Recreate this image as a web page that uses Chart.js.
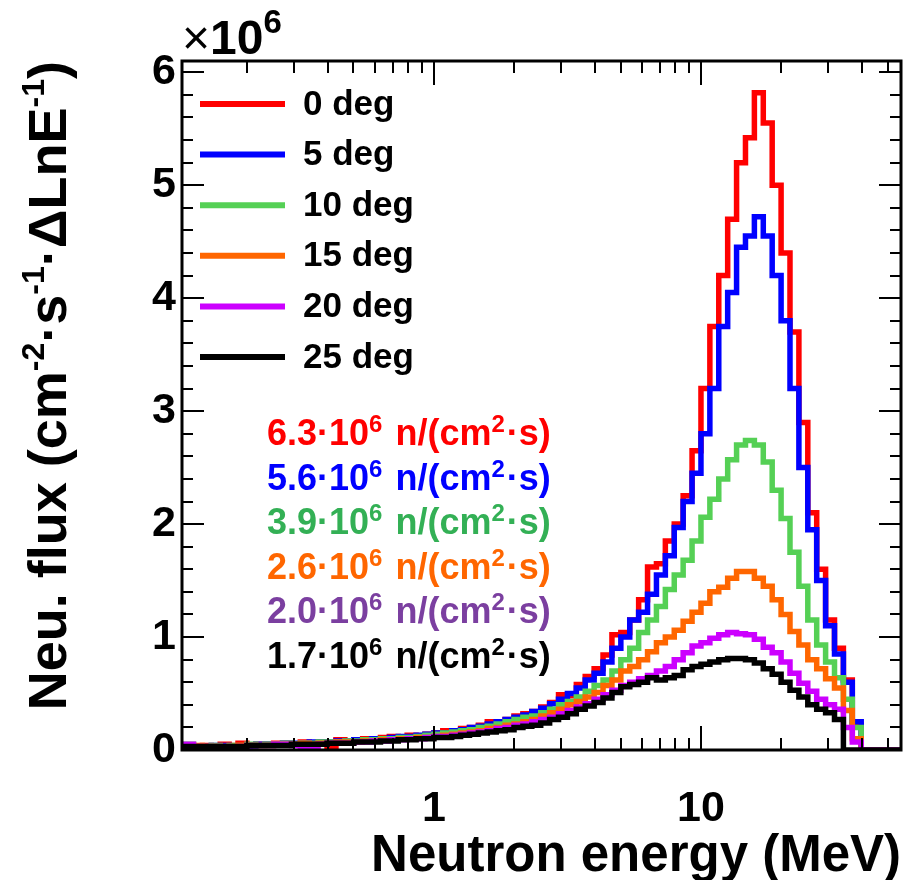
<!DOCTYPE html>
<html>
<head>
<meta charset="utf-8">
<script src="https://cdn.jsdelivr.net/npm/chart.js@4.4.0/dist/chart.umd.min.js"></script>
<style>
  html, body { margin: 0; padding: 0; background: #fff; }
</style>
</head>
<body>
<canvas id="myChart" width="914" height="880"></canvas>
<script>
const FONT = "'Liberation Sans', Arial, Helvetica, sans-serif";

// log bins, 30 per decade, first low edge just below 0.11 MeV
const binsPerDecade = 30;
const nBins = 82;
const binEdges = [];
for (let k = 0; k <= nBins; k++) binEdges.push(Math.pow(10, -1 + (k + 1) / binsPerDecade));

const labels = ['0 deg', '5 deg', '10 deg', '15 deg', '20 deg', '25 deg'];
const fluxText = ['6.3', '5.6', '3.9', '2.6', '2.0', '1.7'];

// flux per bin, in units of 10^6 (cm-2 s-1 per ΔLnE)
const deg0 = [
  0.03,0.04,0.02,0.04,0.03,0.05,0.04,0.06,0.04,0.05,
  0.05,0.06,0.06,0.05,0.07,0.06,0.07,0.01,0.09,0.07,
  0.08,0.10,0.09,0.11,0.12,0.11,0.13,0.12,0.14,0.15,
  0.17,0.16,0.19,0.20,0.22,0.25,0.24,0.27,0.30,0.32,
  0.34,0.38,0.42,0.49,0.48,0.58,0.65,0.72,0.84,1.02,
  1.04,1.15,1.33,1.62,1.65,1.85,2.00,2.25,2.65,3.20,
  3.75,4.20,4.70,5.20,5.42,5.82,5.55,5.00,4.40,3.70,
  2.90,2.10,1.60,1.15,0.90,0.62,0.22,0,0,0,
  0,0
];
const deg5 = [
  0.02,0.03,0.03,0.02,0.04,0.04,0.03,0.005,0.01,0.05,
  0.05,0.05,0.06,0.06,0.06,0.07,0.07,0.07,0.08,0.08,
  0.09,0.09,0.10,0.10,0.11,0.12,0.12,0.13,0.14,0.15,
  0.15,0.17,0.18,0.20,0.21,0.23,0.25,0.27,0.29,0.31,
  0.34,0.37,0.41,0.45,0.50,0.55,0.62,0.68,0.78,0.90,
  1.00,1.15,1.22,1.38,1.55,1.72,1.97,2.20,2.45,2.80,
  3.20,3.75,4.05,4.45,4.55,4.72,4.55,4.20,3.80,3.20,
  2.50,1.95,1.50,1.10,0.85,0.60,0.25,0,0,0,
  0,0
];
const deg10 = [
  0.03,0.05,0.03,0.03,0.04,0.03,0.04,0.04,0.05,0.04,
  0.05,0.05,0.06,0.05,0.06,0.06,0.07,0.07,0.07,0.08,
  0.08,0.09,0.09,0.10,0.10,0.11,0.11,0.12,0.13,0.14,
  0.15,0.16,0.17,0.18,0.20,0.21,0.23,0.25,0.27,0.29,
  0.30,0.33,0.36,0.40,0.43,0.47,0.52,0.57,0.62,0.70,
  0.80,0.90,1.04,1.15,1.27,1.42,1.55,1.68,1.85,2.06,
  2.22,2.40,2.57,2.70,2.74,2.70,2.55,2.30,2.05,1.75,
  1.45,1.15,0.93,0.78,0.64,0.45,0.20,0,0,0,
  0,0
];
const deg15 = [
  0.03,0.03,0.04,0.03,0.03,0.00,0.03,0.04,0.04,0.04,
  0.04,0.05,0.05,0.05,0.06,0.05,0.06,0.06,0.07,0.07,
  0.07,0.08,0.08,0.09,0.09,0.10,0.10,0.11,0.11,0.12,
  0.13,0.14,0.15,0.16,0.17,0.19,0.20,0.22,0.23,0.25,
  0.27,0.30,0.33,0.36,0.40,0.43,0.47,0.51,0.57,0.62,
  0.70,0.74,0.80,0.87,0.95,1.00,1.06,1.14,1.22,1.30,
  1.40,1.44,1.52,1.58,1.58,1.52,1.45,1.33,1.20,1.05,
  0.93,0.80,0.72,0.63,0.55,0.35,0.10,0,0,0,
  0,0
];
const deg20 = [
  0.03,0.05,0.03,0.03,0.03,0.03,0.00,0.03,0.04,0.04,
  0.04,0.05,0.05,0.04,0.01,0.01,0.05,0.06,0.06,0.06,
  0.07,0.07,0.08,0.08,0.09,0.09,0.10,0.10,0.11,0.12,
  0.12,0.13,0.14,0.15,0.16,0.17,0.19,0.20,0.22,0.23,
  0.25,0.27,0.29,0.32,0.35,0.38,0.41,0.45,0.49,0.53,
  0.57,0.60,0.63,0.66,0.70,0.74,0.80,0.86,0.92,0.95,
  0.99,1.02,1.04,1.03,1.02,0.98,0.91,0.86,0.78,0.68,
  0.59,0.52,0.45,0.40,0.36,0.20,0.07,0,0,0,
  0,0
];
const deg25 = [
  0.03,0.03,0.03,0.03,0.03,0.03,0.03,0.03,0.04,0.04,
  0.04,0.04,0.04,0.05,0.05,0.05,0.05,0.06,0.06,0.06,
  0.07,0.07,0.07,0.08,0.08,0.09,0.09,0.10,0.10,0.11,
  0.11,0.12,0.13,0.14,0.15,0.16,0.17,0.18,0.20,0.21,
  0.22,0.24,0.27,0.29,0.32,0.36,0.39,0.42,0.46,0.51,
  0.56,0.58,0.60,0.64,0.62,0.64,0.66,0.71,0.74,0.76,
  0.78,0.80,0.81,0.81,0.80,0.77,0.72,0.67,0.60,0.53,
  0.47,0.40,0.36,0.33,0.27,0,0,0,0,0,
  0,0
];
const series = [deg0, deg5, deg10, deg15, deg20, deg25];

const lineColors = ['#ff0000', '#0000ff', '#55d055', '#ff6600', '#cc00ff', '#000000'];
const textColors = ['#ff0000', '#0000ff', '#33b055', '#ff6600', '#7b3fa0', '#000000'];

const xMin = 0.114, xMax = 56.1;
const yMin = 0, yMax = 6.1;
const xMajorTicks = [1, 10];
const xMinorTicks = [0.2,0.3,0.4,0.5,0.6,0.7,0.8,0.9,2,3,4,5,6,7,8,9,20,30,40,50];
const yMajorTicks = [0, 1, 2, 3, 4, 5, 6];

function toSteps(vals) {
  const pts = vals.map((v, k) => ({ x: binEdges[k], y: v }));
  pts.push({ x: binEdges[vals.length], y: vals[vals.length - 1] });
  return pts;
}

function drawRich(ctx, parts, x, y, align) {
  let total = 0;
  parts.forEach(p => {
    ctx.font = (p.w || 'bold') + ' ' + p.size + 'px ' + FONT;
    p.width = ctx.measureText(p.t).width + (p.gap || 0);
    total += p.width;
  });
  let cx = align === 'right' ? x - total : x;
  parts.forEach(p => {
    ctx.font = (p.w || 'bold') + ' ' + p.size + 'px ' + FONT;
    ctx.fillText(p.t, cx, y - (p.rise || 0));
    cx += p.width;
  });
}

const frameTicks = {
  id: 'frameTicks',
  afterDatasetsDraw(chart) {
    const { ctx, chartArea: a, scales: { x, y } } = chart;
    ctx.save();
    ctx.strokeStyle = '#000';
    ctx.lineWidth = 2;
    ctx.beginPath();
    for (let k = 0; k <= 30; k++) {
      const v = k / 5;
      const py = Math.round(y.getPixelForValue(v));
      const len = k % 5 === 0 ? 22 : 11;
      ctx.moveTo(a.left, py); ctx.lineTo(a.left + len, py);
      ctx.moveTo(a.right, py); ctx.lineTo(a.right - len, py);
    }
    xMajorTicks.concat(xMinorTicks).forEach(v => {
      const px = Math.round(x.getPixelForValue(v));
      const len = xMajorTicks.includes(v) ? 24 : 12;
      ctx.moveTo(px, a.bottom); ctx.lineTo(px, a.bottom - len);
      ctx.moveTo(px, a.top); ctx.lineTo(px, a.top + len);
    });
    ctx.stroke();
    ctx.lineWidth = 3;
    ctx.strokeRect(a.left, a.top, a.right - a.left, a.bottom - a.top);
    ctx.restore();
  },
  afterDraw(chart) {
    const { ctx } = chart;
    ctx.save();
    ctx.fillStyle = '#000';
    ctx.textBaseline = 'alphabetic';

    // x10^6 exponent
    drawRich(ctx, [
      { t: '\u00d7', size: 48, w: 'normal' },
      { t: '10', size: 48 },
      { t: '6', size: 33, rise: 21 }
    ], 182, 54);

    // y axis title, rotated
    ctx.save();
    ctx.translate(66, 61);
    ctx.rotate(-Math.PI / 2);
    drawRich(ctx, [
      { t: 'Neu. flux (cm', size: 54 },
      { t: '-2', size: 32, rise: 22 },
      { t: '\u00b7s', size: 54 },
      { t: '-1', size: 32, rise: 22 },
      { t: '\u00b7\u0394LnE', size: 54 },
      { t: '-1', size: 32, rise: 22 },
      { t: ')', size: 54 }
    ], 0, 0, 'right');
    ctx.restore();

    // legend
    const legY0 = 104, legDy = 50.6;
    labels.forEach((lab, i) => {
      const yy = legY0 + i * legDy;
      ctx.strokeStyle = lineColors[i];
      ctx.lineWidth = 6;
      ctx.beginPath();
      ctx.moveTo(200, yy); ctx.lineTo(285, yy);
      ctx.stroke();
      ctx.fillStyle = '#000';
      ctx.font = 'bold 35px ' + FONT;
      ctx.textBaseline = 'middle';
      ctx.fillText(lab, 303, yy + 1);
    });

    // integrated flux notes
    ctx.textBaseline = 'alphabetic';
    fluxText.forEach((f, i) => {
      const yy = 432 + i * 44.6 + 13;
      ctx.fillStyle = textColors[i];
      drawRich(ctx, [
        { t: f + '\u00b710', size: 36 },
        { t: '6', size: 24, rise: 13, gap: 3 },
        { t: ' n/(cm', size: 36 },
        { t: '2', size: 24, rise: 13, gap: 2 },
        { t: '\u00b7s)', size: 36 }
      ], 267, yy);
    });
    ctx.restore();
  }
};

const datasets = series.map((vals, i) => ({
  label: labels[i],
  data: toSteps(vals),
  borderColor: lineColors[i],
  backgroundColor: lineColors[i],
  borderWidth: 5.5,
  stepped: 'before',
  pointRadius: 0,
  fill: false,
  borderJoinStyle: 'miter',
  borderCapStyle: 'butt',
  order: 6 - i
}));

Chart.defaults.font.family = FONT;

const config = {
  type: 'line',
  data: { datasets: datasets },
  options: {
    responsive: false,
    animation: false,
    devicePixelRatio: 1,
    layout: { padding: { left: 0, top: 61, right: 13, bottom: 0 } },
    plugins: { legend: { display: false }, tooltip: { enabled: false } },
    scales: {
      x: {
        type: 'logarithmic',
        min: xMin,
        max: xMax,
        afterBuildTicks: s => { s.ticks = xMajorTicks.map(v => ({ value: v })); },
        afterFit: s => { s.height = 130; },
        ticks: {
          color: '#000',
          font: { size: 43, weight: 'bold' },
          padding: 33,
          maxRotation: 0,
          autoSkip: false,
          callback: v => String(v)
        },
        grid: { display: false, drawTicks: false },
        border: { display: false },
        title: {
          display: true,
          text: 'Neutron energy (MeV)',
          align: 'end',
          color: '#000',
          font: { size: 51, weight: 'bold', lineHeight: 1 },
          padding: { top: 0, bottom: -2 }
        }
      },
      y: {
        min: yMin,
        max: yMax,
        afterBuildTicks: s => { s.ticks = yMajorTicks.map(v => ({ value: v })); },
        afterFit: s => { s.width = 182; },
        ticks: {
          color: '#000',
          font: { size: 43, weight: 'bold' },
          padding: 6
        },
        grid: { display: false, drawTicks: false },
        border: { display: false }
      }
    }
  },
  plugins: [frameTicks]
};

const myChart = new Chart(document.getElementById('myChart'), config);
</script>
</body>
</html>
